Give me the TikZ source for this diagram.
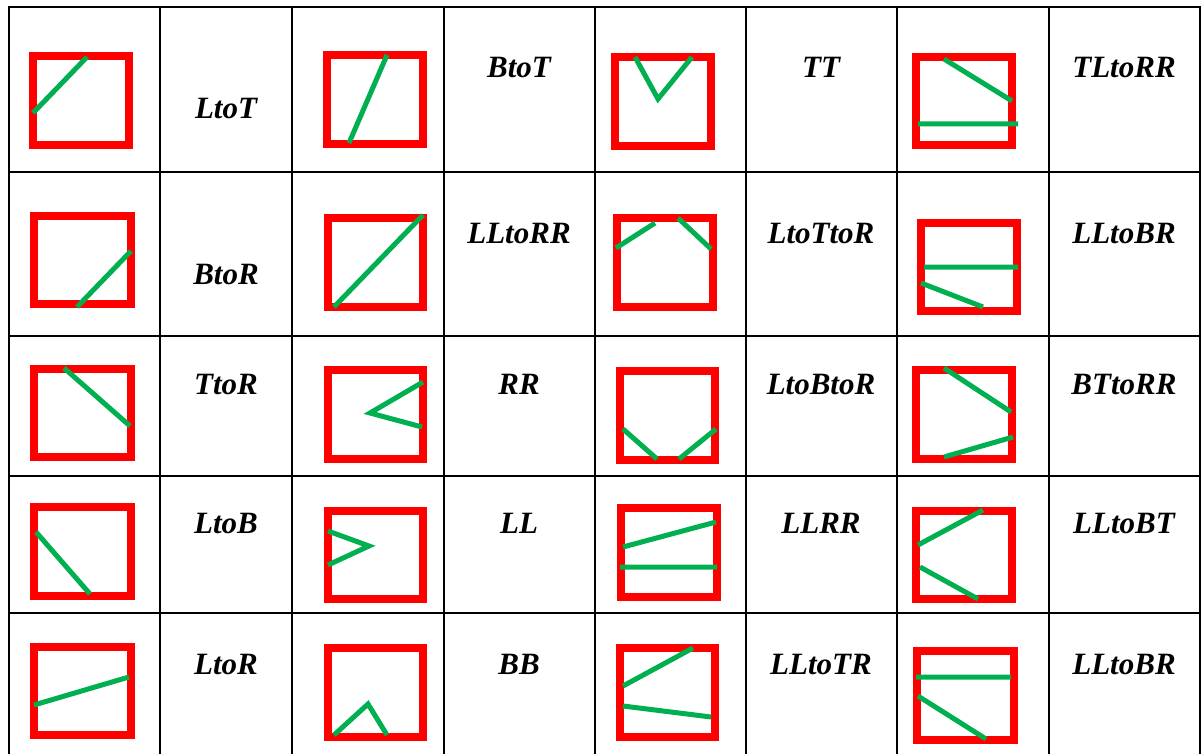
\documentclass[tikz,border=0pt]{standalone}
\usepackage{fontspec}
\setmainfont{Liberation Serif}
\usepackage{xcolor}
\usepackage{tikz}
\definecolor{segGreen}{RGB}{0,176,80}

\begin{document}
\begin{tikzpicture}[x=1pt,y=-1pt,
	frame/.style={draw=red,line width=8pt},
	seg/.style={draw=segGreen,line width=5pt},
	rule/.style={draw=black,line width=2pt},
	lbl/.style={anchor=base,font=\fontsize{31}{31}\selectfont\bfseries\itshape}]
	\useasboundingbox (0,0) rectangle (1204,754);
	
	% table rules
	\draw[rule](9,6)--(9,754)(160,6)--(160,754)(292,6)--(292,754)
	(444,6)--(444,754)(595,6)--(595,754)(746,6)--(746,754)
	(897,6)--(897,754)(1049,6)--(1049,754)(1200,6)--(1200,754);
	\draw[rule](8,7)--(1201,7)(8,172)--(1201,172)(8,336)--(1201,336)
	(8,476)--(1201,476)(8,613)--(1201,613);
	
	% first row
	\draw[frame](33,56)rectangle(129,145);
	\draw[seg](33,113)--(87,57);
	\draw[frame](327,55)rectangle(423,144);
	\draw[seg](349,143)--(387,55);
	\draw[frame](615,57)rectangle(711,146);
	\draw[seg](635,57)--(658,99)--(692,57);
	\draw[frame](916,57)rectangle(1012,145);
	\draw[seg](944,59)--(1012,101)(918,124)--(1018,124);
	
	\node[lbl](ltot) at (226,119){LtoT};
	\node[lbl](btot) at (519,78){BtoT};
	\node[lbl](tt) at (821,78){TT};
	\node[lbl](tltorr) at (1124,78){TLtoRR};
	
	% second row
	\draw[frame](34,216)rectangle(131,304);
	\draw[seg](77,307)--(131,251);
	\draw[frame](328,218)rectangle(423,307);
	\draw[seg](334,307)--(423,215);
	\draw[frame](617,218)rectangle(713,307);
	\draw[seg](616,248)--(655,223)(678,218)--(711,249);
	\draw[frame](921,223)rectangle(1017,311);
	\draw[seg](924,267)--(1018,267)(921,283)--(983,307);
	
	\node[lbl](btor) at (226,284){BtoR};
	\node[lbl](lltorr) at (519,243){LLtoRR};
	\node[lbl](ltottor) at (821,243){LtoTtoR};
	\node[lbl](lltobrA) at (1124,243){LLtoBR};
	
	% third row
	\draw[frame](34,369)rectangle(131,457);
	\draw[seg](64,368)--(130,426);
	\draw[frame](328,370)rectangle(423,459);
	\draw[seg](423,382)--(370,413)--(422,427);
	\draw[frame](620,371)rectangle(715,460);
	\draw[seg](623,429)--(657,459)(679,459)--(716,429);
	\draw[frame](916,370)rectangle(1012,459);
	\draw[seg](944,368)--(1011,412)(944,457)--(1013,437);
	
	\node[lbl](ttor) at (226,394.5){TtoR};
	\node[lbl](rr) at (519,394.5){RR};
	\node[lbl](ltobtor) at (821,394.5){LtoBtoR};
	\node[lbl](bttorr) at (1124,394.5){BTtoRR};
	
	% fourth row
	\draw[frame](34,507)rectangle(131,596);
	\draw[seg](36,532)--(90,594);
	\draw[frame](328,511)rectangle(423,599);
	\draw[seg](328,531)--(369,546)--(328,565);
	\draw[frame](621,508)rectangle(717,597);
	\draw[seg](623,547)--(716,522)(620,567)--(717,567);
	\draw[frame](916,511)rectangle(1012,599);
	\draw[seg](918,545)--(983,510)(920,567)--(978,599);
	
	\node[lbl](ltob) at (226,533){LtoB};
	\node[lbl](ll) at (519,533){LL};
	\node[lbl](llrr) at (821,533){LLRR};
	\node[lbl](lltobt) at (1124,533){LLtoBT};
	
	% fifth row
	\draw[frame](34,647)rectangle(131,735);
	\draw[seg](34,705)--(129,677);
	\draw[frame](328,648)rectangle(423,737);
	\draw[seg](334,735)--(368,704)--(387,735);
	\draw[frame](620,648)rectangle(715,737);
	\draw[seg](623,686)--(693,648)(623,706)--(711,717);
	\draw[frame](917,651)rectangle(1014,740);
	\draw[seg](916,677)--(1011,677)(918,696)--(986,739);
	
	\node[lbl](ltor) at (226,674){LtoR};
	\node[lbl](bb) at (519,674){BB};
	\node[lbl](lltotr) at (821,674){LLtoTR};
	\node[lbl](lltobrB) at (1124,674){LLtoBR};
\end{tikzpicture}
\end{document}
